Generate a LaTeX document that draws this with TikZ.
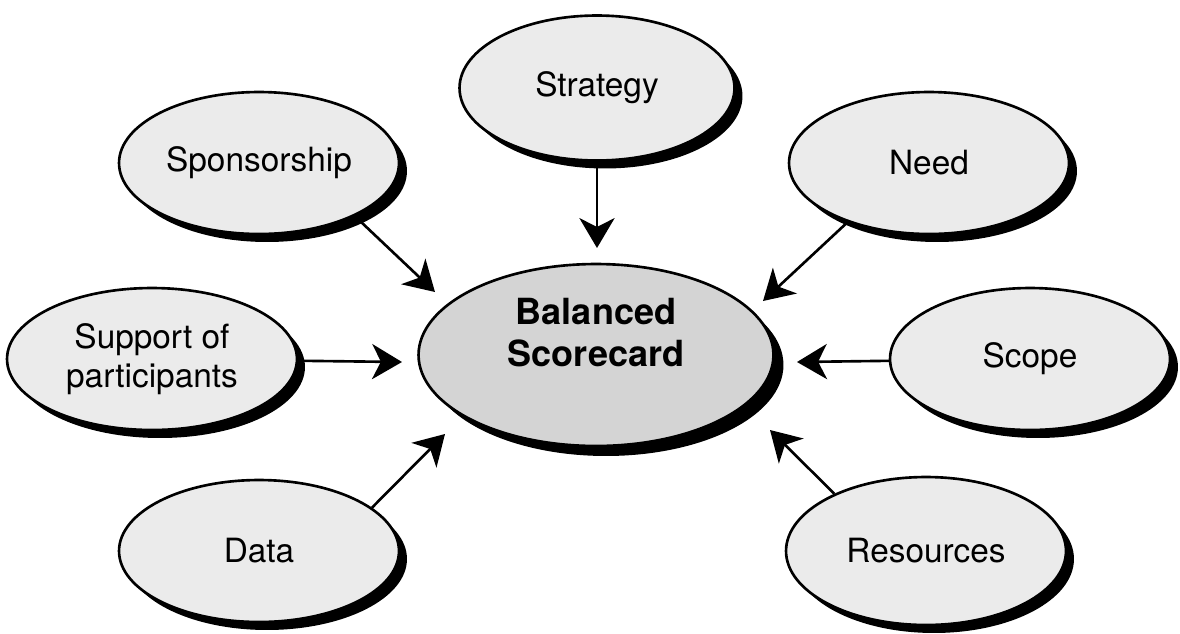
\documentclass[tikz,border=0pt]{standalone}
\usepackage{fontspec}
\setmainfont{TeX Gyre Heros}
\usetikzlibrary{shapes.geometric,shadows,arrows.meta}

\tikzset{
	bubble/.style={ellipse,draw=black,line width=1.5pt,fill=black!8,inner sep=0pt,
		minimum width=5.6cm,minimum height=2.84cm,align=center,font=\fontsize{19}{22}\selectfont,
		drop shadow={shadow xshift=0.16cm,shadow yshift=-0.16cm,fill=black,opacity=1}},
	core/.style={bubble,fill=black!17,minimum width=7.1cm,minimum height=3.64cm,
		font=\fontsize{20.5}{24}\selectfont\bfseries,
		drop shadow={shadow xshift=0.2cm,shadow yshift=-0.2cm,fill=black,opacity=1}},
	feed/.style={-{Stealth[length=17pt,width=20pt,inset=5pt]},line width=1.5pt}
}

\begin{document}
\begin{tikzpicture}[x=0.02cm,y=-0.02cm]
		\useasboundingbox (0,0) rectangle (1180,633);
		\begin{scope}
			\node[core] (bsc) at (596,355) {Balanced\\Scorecard\\[2pt]\mbox{}};
			\node[bubble,minimum width=5.5cm,minimum height=2.9cm] (strat) at (597,88) {Strategy};
			\node[bubble] (spons) at (259,163) {Sponsorship};
			\node[bubble] (need) at (929,163) {Need};
			\node[bubble,minimum width=5.8cm] (supp) at (152,359) {Support of\\participants};
			\node[bubble] (scope) at (1030,359) {Scope};
			\node[bubble] (data) at (259,551) {Data};
			\node[bubble,minimum height=2.96cm] (res) at (926,551) {Resources};
			% arrow tips short of the centre
			\coordinate (strattip) at (597,248);
			\coordinate (sponstip) at (435,292);
			\coordinate (needtip) at (763,301);
			\coordinate (supptip) at (402,362);
			\coordinate (scopetip) at (797,362);
			\coordinate (datatip) at (445,434);
			\coordinate (restip) at (770,430);
			\foreach \Nom/\Depart in {strat/strat,spons/spons.-29,need/need.-144,supp/supp,
				scope/scope,data/data.21,res/res.148}
			\draw[feed] (\Depart) -- (\Nom tip);
		\end{scope}
	\end{tikzpicture}
\end{document}
